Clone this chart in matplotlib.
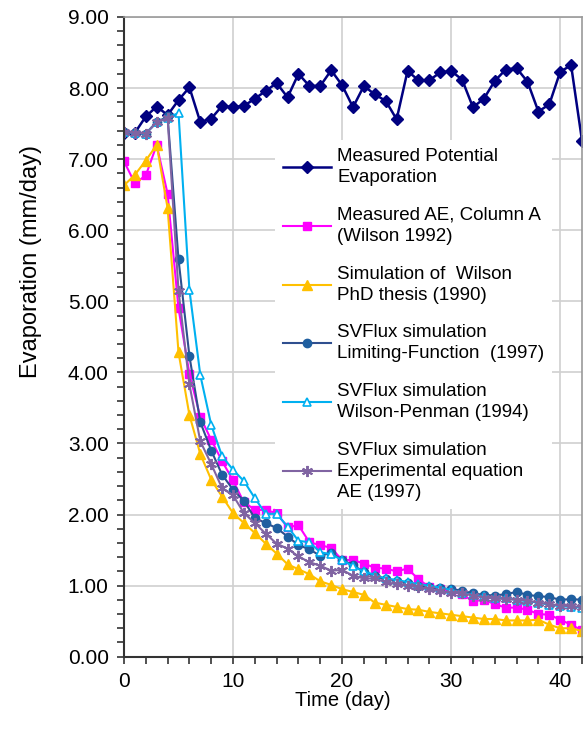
import matplotlib
matplotlib.use("Agg")
import matplotlib.pyplot as plt
import matplotlib.ticker
import numpy as np

plt.rcParams['font.family'] = ['Liberation Sans', 'DejaVu Sans']

# data (mm/day), one value per day
days = list(range(43))

pe = [7.37, 7.37, 7.60, 7.74, 7.62, 7.83, 8.01, 7.52, 7.57, 7.75, 7.73, 7.75, 7.85, 7.96, 8.07,
      7.87, 8.20, 8.03, 8.03, 8.25, 8.04, 7.73, 8.03, 7.91, 7.82, 7.56, 8.24, 8.11, 8.11, 8.22,
      8.24, 8.12, 7.73, 7.85, 8.10, 8.26, 8.28, 8.09, 7.67, 7.77, 8.23, 8.32, 7.26]

ae_col_a = [6.97, 6.66, 6.77, 7.20, 6.51, 4.90, 3.98, 3.37, 3.05, 2.75, 2.48, 2.17, 2.07, 2.06, 2.02,
            1.82, 1.85, 1.61, 1.57, 1.53, 1.36, 1.36, 1.31, 1.25, 1.24, 1.20, 1.24, 1.09, 0.98, 0.95,
            0.92, 0.88, 0.78, 0.80, 0.74, 0.69, 0.69, 0.66, 0.60, 0.59, 0.52, 0.45, 0.37]

wilson_1990 = [6.63, 6.78, 6.98, 7.20, 6.31, 4.28, 3.40, 2.85, 2.49, 2.25, 2.02, 1.88, 1.74, 1.59, 1.45,
               1.30, 1.23, 1.16, 1.06, 1.01, 0.95, 0.91, 0.87, 0.76, 0.73, 0.70, 0.67, 0.66, 0.63, 0.61,
               0.59, 0.57, 0.55, 0.53, 0.53, 0.51, 0.51, 0.51, 0.52, 0.45, 0.40, 0.40, 0.36]

limiting = [7.38, 7.37, 7.36, 7.52, 7.60, 5.59, 4.23, 3.30, 2.90, 2.56, 2.35, 2.19, 1.95, 1.88, 1.81,
            1.69, 1.57, 1.51, 1.42, 1.46, 1.36, 1.29, 1.19, 1.13, 1.09, 1.06, 1.03, 1.00, 0.98, 0.96,
            0.95, 0.93, 0.89, 0.87, 0.86, 0.88, 0.91, 0.87, 0.85, 0.84, 0.80, 0.81, 0.80]

penman = [7.38, 7.37, 7.36, 7.52, 7.58, 7.65, 5.16, 3.96, 3.26, 2.82, 2.63, 2.47, 2.23, 2.01, 2.01,
          1.83, 1.63, 1.61, 1.47, 1.44, 1.36, 1.27, 1.20, 1.15, 1.10, 1.08, 1.05, 1.02, 1.00, 0.97,
          0.94, 0.90, 0.87, 0.85, 0.83, 0.82, 0.80, 0.78, 0.76, 0.73, 0.71, 0.70, 0.69]

experimental = [7.38, 7.37, 7.36, 7.52, 7.58, 5.15, 3.83, 3.03, 2.71, 2.37, 2.27, 2.02, 1.88, 1.73, 1.59,
                1.52, 1.41, 1.33, 1.28, 1.21, 1.22, 1.14, 1.10, 1.10, 1.05, 1.02, 1.00, 0.98, 0.95, 0.92,
                0.90, 0.89, 0.86, 0.83, 0.82, 0.81, 0.80, 0.79, 0.76, 0.74, 0.72, 0.71, 0.70]

labels = ["Measured Potential\nEvaporation",
          "Measured AE, Column A\n(Wilson 1992)",
          "Simulation of  Wilson\nPhD thesis (1990)",
          "SVFlux simulation\nLimiting-Function  (1997)",
          "SVFlux simulation\nWilson-Penman (1994)",
          "SVFlux simulation\nExperimental equation\nAE (1997)"]

fig = plt.figure(figsize=(5.84, 7.32), dpi=100)
axes = fig.add_axes([0.2123, 0.1029, 0.7843, 0.8739])

axes.plot(days, pe, color="#000080", lw=1.8, marker="D", ms=6.5, label=labels[0])
axes.plot(days, ae_col_a, color="#FF00FF", lw=1.5, marker="s", ms=6, label=labels[1])
axes.plot(days, wilson_1990, color="#FFC000", lw=1.5, marker="^", ms=6.5, label=labels[2])
axes.plot(days, limiting, color="#2F4F8F", lw=1.5, marker="o", ms=6,
          markerfacecolor="#1F5FA0", markeredgecolor="#1F5FA0", label=labels[3])
axes.plot(days, penman, color="#00B0F0", lw=1.5, marker="^", ms=6,
          markerfacecolor="white", markeredgecolor="#00B0F0", markeredgewidth=1.2, label=labels[4])
axes.plot(days, experimental, color="#8064A2", lw=1.5, marker=(6, 2, 0), ms=8,
          markeredgewidth=1.4, label=labels[5])

axes.set_xlim(0, 42)
axes.set_ylim(0, 9)

axes.xaxis.set_major_locator(matplotlib.ticker.MultipleLocator(10))
axes.xaxis.set_minor_locator(matplotlib.ticker.MultipleLocator(2))
axes.yaxis.set_major_locator(matplotlib.ticker.MultipleLocator(1))
axes.yaxis.set_minor_locator(matplotlib.ticker.MultipleLocator(0.2))
axes.yaxis.set_major_formatter(matplotlib.ticker.FormatStrFormatter("%.2f"))

axes.grid(True, which="major", color="#d0d0d0", lw=1.2)
axes.set_axisbelow(True)

axes.tick_params(which="both", direction="out", length=5, width=1.2, colors="#333333",
                 labelsize=15, labelcolor="black")
axes.tick_params(which="major", pad=6)

for side in ["left", "bottom"]:
    axes.spines[side].set_color("#333333")
    axes.spines[side].set_linewidth(1.5)
for side in ["top", "right"]:
    axes.spines[side].set_color("#9a9a9a")
    axes.spines[side].set_linewidth(1.2)

axes.set_xlabel("Time (day)", fontsize=14.5)
axes.set_ylabel("Evaporation (mm/day)", fontsize=17)
axes.xaxis.set_label_coords(0.478, -0.053)
axes.yaxis.set_label_coords(-0.178, 0.618)

leg = axes.legend(loc="upper left", bbox_to_anchor=(0.33, 0.807), fontsize=13.5,
                  handlelength=2.6, labelspacing=1.1, frameon=True, framealpha=1,
                  edgecolor="none", facecolor="white", borderaxespad=0, handletextpad=0.3,
                  fancybox=False)
leg.get_frame().set_linewidth(0)
for t in leg.get_texts():
    t.set_linespacing(1.32)

fig.savefig("out.png", dpi=100)
